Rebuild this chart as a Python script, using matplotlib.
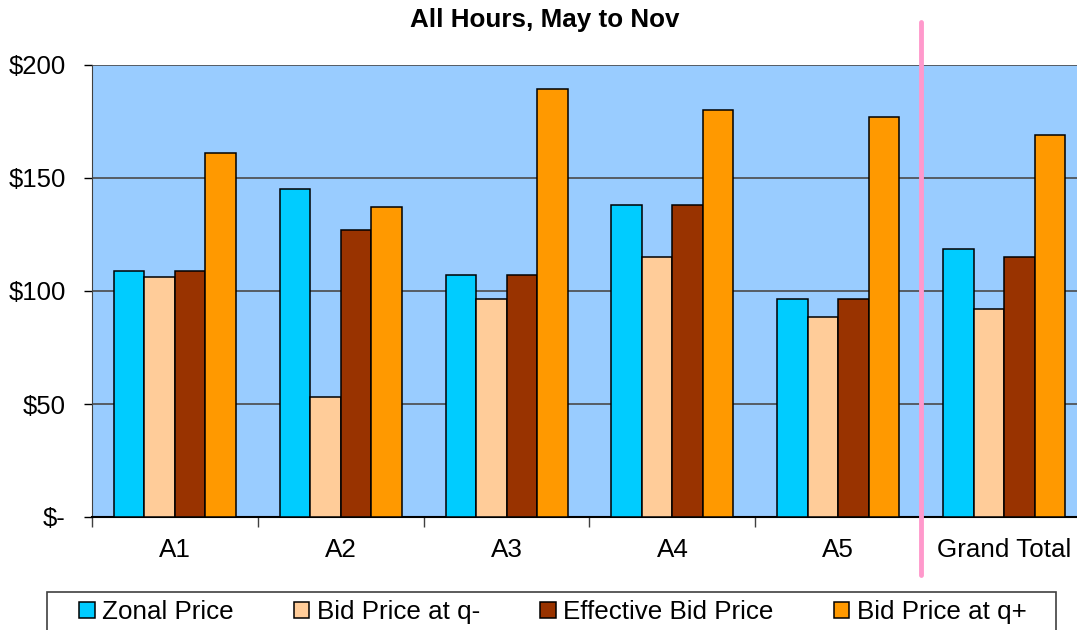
import numpy as np
import matplotlib.pyplot as plt
from matplotlib.lines import Line2D
from matplotlib.patches import Rectangle

plt.rcParams['font.family'] = ['Liberation Sans', 'DejaVu Sans']

# Values
categories = ['A1', 'A2', 'A3', 'A4', 'A5', 'Grand Total']
zonal_price = [109, 145, 107, 138, 96.5, 118.5]
bid_q_minus = [106, 53, 96.5, 115, 88.5, 92]
effective_bid = [109, 127, 107, 138, 96.5, 115]
bid_q_plus = [161, 137, 189.5, 180, 177, 169]

series = [
    ('Zonal Price', zonal_price, '#00CCFF'),
    ('Bid Price at q-', bid_q_minus, '#FFCC99'),
    ('Effective Bid Price', effective_bid, '#993300'),
    ('Bid Price at q+', bid_q_plus, '#FF9900'),
]
y_ticks = [0, 50, 100, 150, 200]
y_labels = ['$-', '$50', '$100', '$150', '$200']

fig = plt.figure(figsize=(10.77, 6.30), dpi=100)
ax = fig.add_axes([92 / 1077, 113 / 630, 995 / 1077, 452 / 630])
ax.set_facecolor('#99CCFF')

x = np.arange(len(categories))
w = 0.184
for i, (name, vals, col) in enumerate(series):
    ax.bar(x + (i - 1.5) * w, vals, w, color=col, edgecolor='black',
           linewidth=1.1, label=name, zorder=3)

ax.set_xlim(-0.5, len(categories) - 0.5)
ax.set_ylim(0, 200)
ax.set_yticks(y_ticks)
ax.set_yticklabels(y_labels, fontsize=18.5)
ax.yaxis.grid(True, color='#4a4a4a', linewidth=1.2, zorder=1)
ax.tick_params(axis='y', length=6, width=1, direction='out', pad=13, colors='black')

ax.set_xticks(x)
ax.set_xticklabels(categories, fontsize=18.7)
ax.set_xticks(np.arange(-0.5, len(categories)), minor=True)
ax.tick_params(axis='x', which='major', length=0, pad=15)
ax.tick_params(axis='x', which='minor', length=7, width=1, color='#404040')

for s in ['top', 'right']:
    ax.spines[s].set_visible(False)
ax.spines['left'].set_color('#404040')
ax.spines['bottom'].set_color('black')
ax.spines['bottom'].set_linewidth(1.5)

fig.text(545 / 1077, 1 - 20 / 630, 'All Hours, May to Nov', ha='center', va='center',
         fontsize=18.7, fontweight='bold')

# pink separator before Grand Total
fig.add_artist(Line2D([921 / 1077, 921 / 1077], [1 - 22 / 630, 1 - 575 / 630],
                      color='#FF99CC', linewidth=3.5, solid_capstyle='round'))

# legend box (runs off the bottom of the image)
fig.add_artist(Rectangle((47 / 1077, -0.05), (1056 - 47) / 1077, (630 - 592) / 630 + 0.05,
                         transform=fig.transFigure, fill=False,
                         edgecolor='#404040', linewidth=1.2))
leg = fig.legend(loc='center left', bbox_to_anchor=(79 / 1077, 1 - 612 / 630),
                 ncol=4, fontsize=18.7, frameon=False,
                 handlelength=0.6, handleheight=0.6, handletextpad=0.3,
                 columnspacing=2.3, borderpad=0, borderaxespad=0)

fig.savefig('out.png', dpi=100)
